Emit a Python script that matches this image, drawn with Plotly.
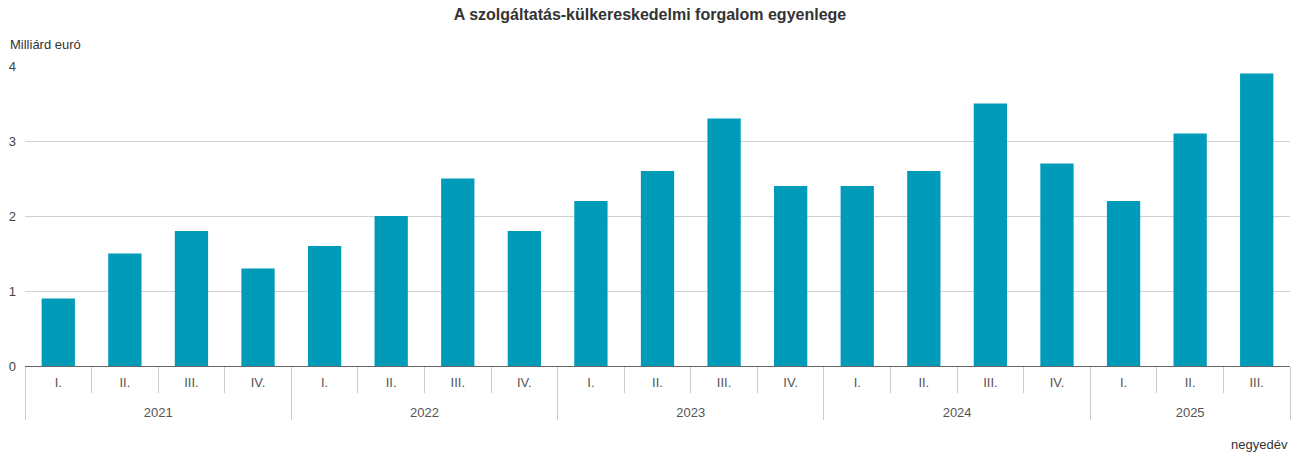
import plotly.graph_objects as go

years = ["2021"] * 4 + ["2022"] * 4 + ["2023"] * 4 + ["2024"] * 4 + ["2025"] * 3
quarters = ["I.", "II.", "III.", "IV."] * 4 + ["I.", "II.", "III."]
values = [0.9, 1.5, 1.8, 1.3,
          1.6, 2.0, 2.5, 1.8,
          2.2, 2.6, 3.3, 2.4,
          2.4, 2.6, 3.5, 2.7,
          2.2, 3.1, 3.9]
y_ticks = [0, 1, 2, 3, 4]

# leading line break pushes the year row lower, like the reference
year_labels = ["<br>" + y for y in years]

fig = go.Figure(go.Bar(
    x=[year_labels, quarters],
    y=values,
    marker=dict(color="#009BB9", line=dict(width=0)),
    hovertemplate="%{y}<extra></extra>",
))

fig.update_layout(
    width=1300, height=464,
    margin=dict(l=25, r=10, t=66, b=98, autoexpand=False),
    paper_bgcolor="white", plot_bgcolor="white",
    font=dict(family="Liberation Sans, Arial, sans-serif", size=13, color="#444"),
    title=dict(text="<b>A szolgáltatás-külkereskedelmi forgalom egyenlege</b>",
               x=0.5, xanchor="center", xref="container", y=1 - 14 / 464, yanchor="middle",
               font=dict(size=16, color="#333")),
    bargap=0.5,
    showlegend=False,
    xaxis=dict(
        type="multicategory",
        automargin=False,
        showline=True, linecolor="#666", linewidth=1,
        ticks="outside", tickson="boundaries", ticklen=26,
        tickcolor="#ccc",
        showdividers=True, dividercolor="#ccc", dividerwidth=1,
        tickfont=dict(size=13, color="#555"),
        ticklabelstandoff=4,
        showgrid=False,
    ),
    yaxis=dict(
        automargin=False,
        range=[0, 4],
        tickvals=y_ticks,
        showgrid=True, gridcolor="#d0d0d0", gridwidth=1,
        zeroline=False,
        showline=False,
        tickfont=dict(size=13, color="#444"),
        ticklabelstandoff=8,
    ),
    annotations=[
        dict(text="Milliárd euró", xref="paper", yref="paper", x=(8 - 25) / 1265, y=1.0,
             xanchor="left", yanchor="middle", yshift=22, showarrow=False,
             font=dict(size=13, color="#333")),
        dict(text="negyedév", xref="paper", yref="paper", x=1.0, y=0,
             xanchor="right", yanchor="middle", yshift=-78, showarrow=False,
             font=dict(size=13, color="#333")),
    ],
)

fig.write_html("out.html", config={"displayModeBar": False},
               post_script="document.body.style.margin='0';")
